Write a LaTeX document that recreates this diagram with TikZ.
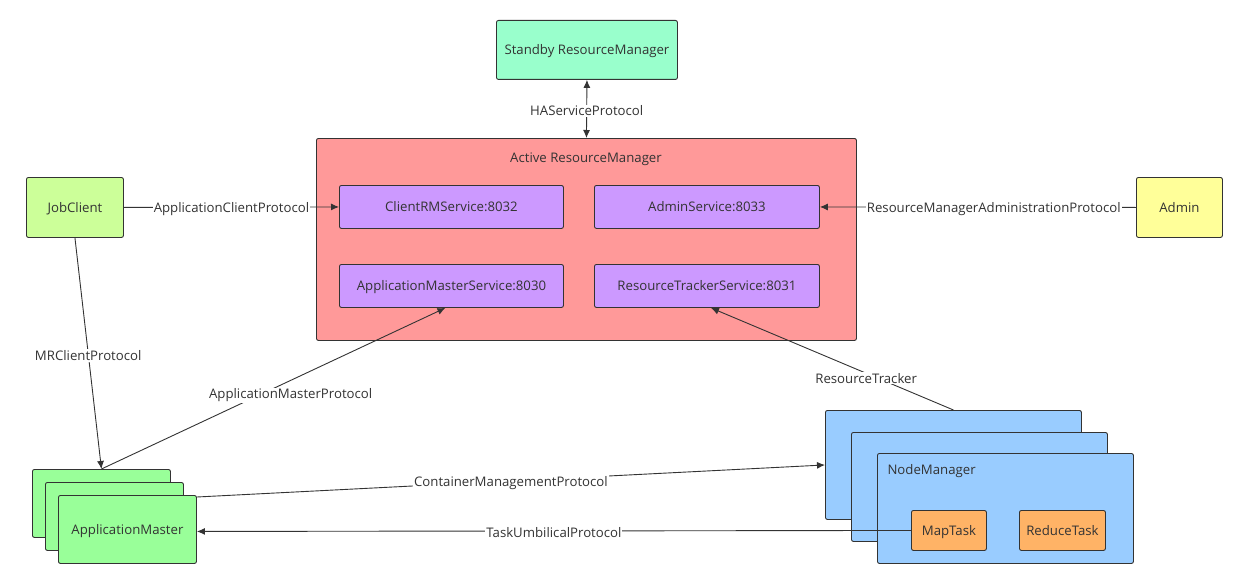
\documentclass[tikz,border=0pt]{standalone}
\usepackage{fontspec}
\setmainfont{Open Sans}
\usetikzlibrary{arrows.meta}
\definecolor{stdby}{RGB}{153,255,204}
\definecolor{active}{RGB}{255,153,153}
\definecolor{svc}{RGB}{204,153,255}
\definecolor{jobc}{RGB}{204,255,153}
\definecolor{adm}{RGB}{255,255,153}
\definecolor{amc}{RGB}{153,255,153}
\definecolor{nmc}{RGB}{153,204,255}
\definecolor{task}{RGB}{255,179,102}
\definecolor{edgec}{RGB}{51,51,51}
\definecolor{txt}{RGB}{51,51,51}
\tikzset{
  fnt/.style={font=\fontsize{13.2}{15}\selectfont, text=txt},
  box/.style={draw=edgec, line width=0.9pt, rounded corners=2pt, anchor=north west, inner sep=0pt, fnt, text depth=0pt},
  conn/.style={draw=edgec, line width=0.9pt, -{Latex[length=8pt,width=7pt]}},
  lbl/.style={fill=white, inner sep=1pt, fnt, yshift=-2pt},
}
\begin{document}
\begin{tikzpicture}[x=1pt,y=-1pt]
\useasboundingbox (0,0) rectangle (1248,586);
% Standby
\node[box, fill=stdby, minimum width=181, minimum height=59] (sb) at (496,20) {Standby ResourceManager};
% Active RM
\node[box, fill=active, minimum width=540, minimum height=202] (arm) at (316,138) {};
\node[fnt] (armt) at (586,159) {Active ResourceManager};
\node[box, fill=svc, minimum width=224, minimum height=43] (crm) at (339,185) {ClientRMService:8032};
\node[box, fill=svc, minimum width=225, minimum height=43] (adms) at (594,185) {AdminService:8033};
\node[box, fill=svc, minimum width=224, minimum height=43] (ams) at (339,264) {ApplicationMasterService:8030};
\node[box, fill=svc, minimum width=225, minimum height=43] (rts) at (594,264) {ResourceTrackerService:8031};
% JobClient & Admin
\node[box, fill=jobc, minimum width=97, minimum height=60] (jc) at (26,177) {JobClient};
\node[box, fill=adm, minimum width=86, minimum height=60] (admin) at (1136,177) {Admin};
% AM stack
\node[box, fill=amc, minimum width=138, minimum height=68] (amB) at (32,469) {};
\node[box, fill=amc, minimum width=138, minimum height=68] (amM) at (45,482) {};
\node[box, fill=amc, minimum width=138, minimum height=68] (amF) at (58,495) {ApplicationMaster};
% NM stack
\node[box, fill=nmc, minimum width=256, minimum height=109] (nmB) at (825,410) {};
\node[box, fill=nmc, minimum width=256, minimum height=109] (nmM) at (851,432) {};
\node[box, fill=nmc, minimum width=256, minimum height=110] (nmF) at (877,453) {};
\node[anchor=west, fnt] (nmt) at (884,471) {NodeManager};
\node[box, fill=task, minimum width=75, minimum height=40] (map) at (911,510) {MapTask};
\node[box, fill=task, minimum width=86, minimum height=40] (red) at (1019,510) {ReduceTask};
% connectors
\draw[conn, {Latex[length=8pt,width=7pt]}-{Latex[length=8pt,width=7pt]}] (sb.south) -- node[lbl] {HAServiceProtocol} (arm.north);
\draw[conn] (jc.east) -- node[lbl] {ApplicationClientProtocol} (crm.west);
\draw[conn] (admin.west) -- node[lbl, pos=0.45] {ResourceManagerAdministrationProtocol} (adms.east);
\draw[conn] (jc.south) -- node[lbl] {MRClientProtocol} (amB.north);
\draw[conn] (amB.north) -- node[lbl, pos=0.55, yshift=-13pt] {ApplicationMasterProtocol} ([xshift=-6pt]ams.south);
\draw[conn] (nmB.north) -- node[lbl, pos=0.36, yshift=-3pt] {ResourceTracker} ([xshift=4pt]rts.south);
\draw[conn] ([yshift=-2pt]amF.north east) -- node[lbl] {ContainerManagementProtocol} (nmB.west);
\draw[conn] (map.west) -- node[lbl] {TaskUmbilicalProtocol} ([yshift=-2pt]amF.east);
\end{tikzpicture}
\end{document}
